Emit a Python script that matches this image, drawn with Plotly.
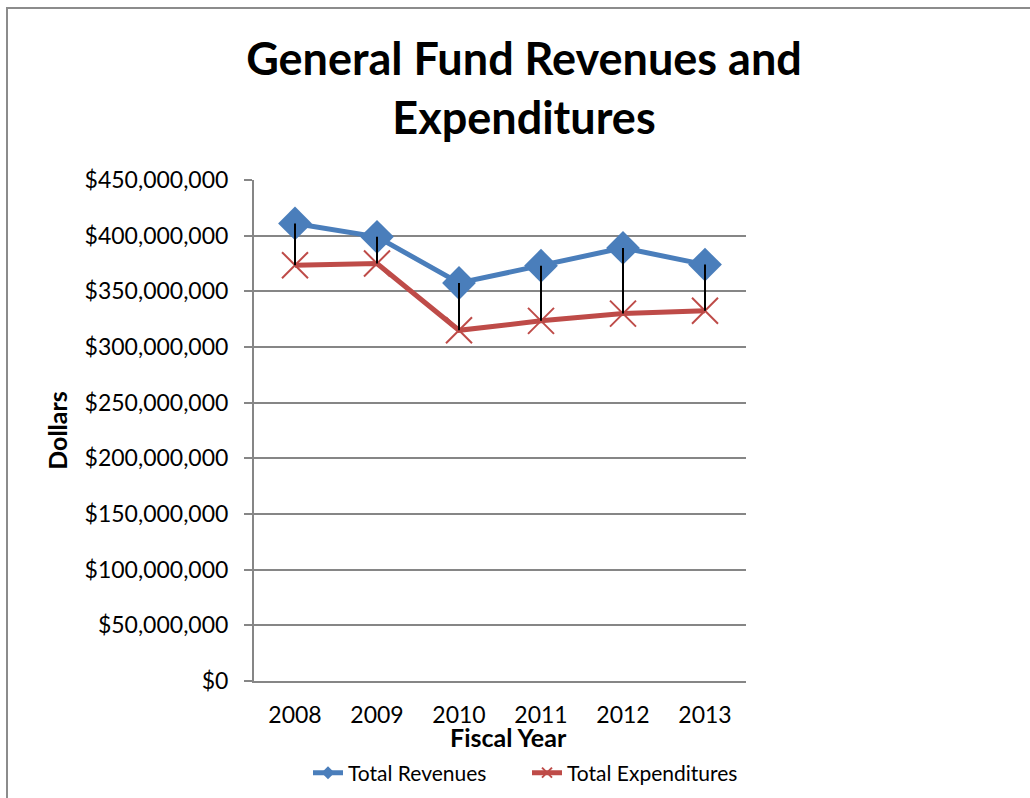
import plotly.graph_objects as go

years = ["2008", "2009", "2010", "2011", "2012", "2013"]
revenues = [411_000_000, 399_000_000, 357_500_000, 373_000_000, 389_000_000, 374_000_000]
expenditures = [373_500_000, 375_000_000, 315_000_000, 323_500_000, 330_000_000, 332_500_000]
y_ticks = [0, 50_000_000, 100_000_000, 150_000_000, 200_000_000, 250_000_000,
           300_000_000, 350_000_000, 400_000_000, 450_000_000]
y_tick_labels = ["$0", "$50,000,000", "$100,000,000", "$150,000,000", "$200,000,000",
                 "$250,000,000", "$300,000,000", "$350,000,000", "$400,000,000",
                 "$450,000,000"]

FONT = "Lato"
BLUE = "#4A7EBB"
RED = "#BE4B48"
GRID = "#868686"

# high-low connector lines
hl_x, hl_y = [], []
for yr, r, e in zip(years, revenues, expenditures):
    hl_x += [yr, yr, None]
    hl_y += [r, e, None]

fig = go.Figure()
fig.add_trace(go.Scatter(
    x=years, y=revenues, name="Total Revenues", mode="lines+markers",
    line=dict(color=BLUE, width=5), showlegend=False,
    marker=dict(symbol="diamond", size=26, color=BLUE),
))
fig.add_trace(go.Scatter(
    x=years, y=expenditures, name="Total Expenditures", mode="lines+markers",
    line=dict(color=RED, width=5), showlegend=False,
    marker=dict(symbol="x-thin", size=26, color=RED, line=dict(color=RED, width=2)),
))
fig.add_trace(go.Scatter(
    x=hl_x, y=hl_y, mode="lines", showlegend=False, hoverinfo="skip",
    line=dict(color="black", width=2),
))
# legend entries with small markers (as in the reference legend)
fig.add_trace(go.Scatter(
    x=[None], y=[None], name="Total Revenues", mode="lines+markers",
    line=dict(color=BLUE, width=5), legend="legend",
    marker=dict(symbol="diamond", size=10, color=BLUE),
))
fig.add_trace(go.Scatter(
    x=[None], y=[None], name="Total Expenditures", mode="lines+markers",
    line=dict(color=RED, width=5), legend="legend2",
    marker=dict(symbol="x-thin", size=10, color=RED, line=dict(color=RED, width=2)),
))

L, R, T, B = 254, 284, 180, 117
W, H = 1030, 798
pw, ph = W - L - R, H - T - B

def px_to_paper_x(px):
    return (px - L) / pw

def px_to_paper_y(py):
    return (H - B - py) / ph

legend_common = dict(
    orientation="h", xref="container", xanchor="left",
    yref="container", y=1 - 773 / H, yanchor="middle",
    font=dict(size=21), bgcolor="rgba(0,0,0,0)",
)

fig.update_layout(
    width=W, height=H,
    margin=dict(l=L, r=R, t=T, b=B, autoexpand=False),
    paper_bgcolor="white", plot_bgcolor="white",
    font=dict(family=FONT, size=23, color="black"),
    title=dict(
        text="General Fund Revenues and<br>Expenditures",
        font=dict(family=FONT, size=45, color="black", weight="bold"),
        x=px_to_paper_x(524), xref="paper", xanchor="center",
        y=1 - 75 / H, yref="container", yanchor="top",
    ),
    xaxis=dict(
        type="category", range=[-0.5, 5.5], automargin=False,
        showline=True, linecolor=GRID, linewidth=2,
        showgrid=False, ticks="outside", ticklen=12, tickcolor="rgba(0,0,0,0)",
        tickfont=dict(size=23),
    ),
    yaxis=dict(
        range=[0, 450_000_000], tickvals=y_ticks, ticktext=y_tick_labels,
        automargin=False,
        showline=True, linecolor=GRID, linewidth=2,
        showgrid=True, gridcolor=GRID, gridwidth=1.5,
        ticks="outside", ticklen=8, tickcolor=GRID, tickwidth=1.5,
        ticklabelstandoff=11,
        tickfont=dict(size=23),
        title=dict(text="Dollars", font=dict(size=25, weight="bold"), standoff=10),
        zeroline=False,
    ),
    annotations=[dict(
        text="<b>Fiscal Year</b>", xref="paper", yref="paper",
        x=px_to_paper_x(508), y=px_to_paper_y(737),
        xanchor="center", yanchor="middle", showarrow=False,
        font=dict(size=25),
    )],
    legend=dict(x=308 / W, **legend_common),
    legend2=dict(x=527 / W, **legend_common),
    shapes=[dict(
        type="rect", xref="paper", yref="paper",
        x0=px_to_paper_x(7), x1=px_to_paper_x(1060),
        y0=px_to_paper_y(830), y1=px_to_paper_y(8),
        line=dict(color="#8C8C8C", width=2), fillcolor="rgba(0,0,0,0)",
        layer="below",
    )],
)

fig.write_html("out.html", config={"displayModeBar": False},
               post_script="document.body.style.margin='0px';")
